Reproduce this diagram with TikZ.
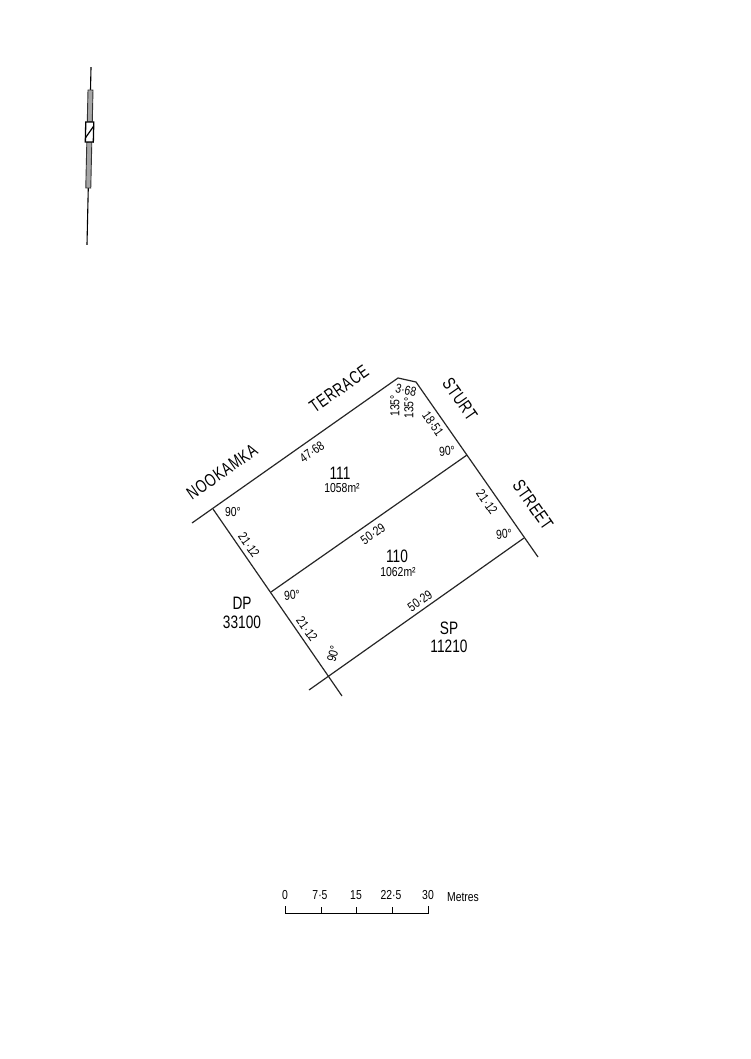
\documentclass[tikz,border=0pt]{standalone}
\usepackage{fontspec}
\setmainfont{Liberation Sans}
\tikzset{
  bigtext/.style={inner sep=0pt,xscale=0.76,font=\fontsize{18}{18}\selectfont},
  roadtext/.style={inner sep=0pt,xscale=0.74,font=\fontsize{18}{18}\selectfont\addfontfeature{LetterSpace=5}},
  smalltext/.style={inner sep=0pt,xscale=0.8,font=\fontsize{13}{13}\selectfont},
  parcel/.style={line width=1.2pt,black!85}
}
\begin{document}
\begin{tikzpicture}[x=1pt,y=-1pt]
\useasboundingbox (0,0) rectangle (750,1059);

% Corner points
\coordinate (terraceend) at (192,523);
\coordinate (dptop) at (213,509);
\coordinate (chamferA) at (398,378);
\coordinate (chamferB) at (416,382);
\coordinate (midright) at (467,455);
\coordinate (lowright) at (524,538);
\coordinate (streetend) at (538,557);
\coordinate (midleft) at (271,592);
\coordinate (corner) at (328,675);
\coordinate (spend) at (309,690);
\coordinate (dpend) at (342,696);

% Allotment boundaries
\draw[parcel] (terraceend) -- (chamferA) -- (chamferB) -- (streetend);
\draw[parcel] (dptop) -- (dpend);
\draw[parcel] (midleft) -- (midright);
\draw[parcel] (spend) -- (lowright);

% Road names
\node[rotate=35,roadtext] (nookamka) at (222,472) {NOOKAMKA};
\node[rotate=35,roadtext] (terrace) at (339,389) {TERRACE};
\node[rotate=-55,roadtext] (sturt) at (460,399) {STURT};
\node[rotate=-55,roadtext] (street) at (533,505) {STREET};

% Allotments
\node[bigtext] (lotA) at (340,473) {111};
\node[smalltext] (areaA) at (342,488) {1058m²};
\node[bigtext] (lotB) at (397,556) {110};
\node[smalltext] (areaB) at (398,572) {1062m²};

% Adjoining plans
\node[bigtext] (dp) at (242,603) {DP};
\node[bigtext] (dpnum) at (242,622) {33100};
\node[bigtext] (sp) at (449,628) {SP};
\node[bigtext] (spnum) at (449,646) {11210};

% Dimensions
\node[rotate=35,smalltext] (dimA) at (312,452) {47·68};
\node[rotate=-12,smalltext] (dimB) at (406,390) {3·68};
\node[rotate=-55,smalltext] (dimC) at (433,424) {18·51};
\node[rotate=-55,smalltext] (dimD) at (487,502) {21·12};
\node[rotate=35,smalltext] (dimE) at (373,534) {50·29};
\node[rotate=35,smalltext] (dimF) at (420,601) {50·29};
\node[rotate=-55,smalltext] (dimG) at (249,545) {21·12};
\node[rotate=-55,smalltext] (dimH) at (307,629) {21·12};

% Angles
\node[smalltext] (angA) at (233,512) {90°};
\node[rotate=90,smalltext] (angB) at (395,406) {135°};
\node[rotate=90,smalltext] (angC) at (409,408) {135°};
\node[rotate=5,smalltext] (angD) at (447,451) {90°};
\node[rotate=5,smalltext] (angE) at (504,534) {90°};
\node[rotate=5,smalltext] (angF) at (292,595) {90°};
\node[rotate=75,smalltext] (angG) at (333,654) {90°};

% North point
\begin{scope}[shift={(89,156)},rotate=-1.3]
\draw[line width=1.1pt] (0,-89) -- (0,89);
\filldraw[draw=black!80,fill=black!35,line width=0.9pt] (-2.5,-66) rectangle (2.5,-34);
\filldraw[draw=black!80,fill=black!35,line width=0.9pt] (-2.5,-14) rectangle (2.5,32);
\filldraw[draw=black,fill=white,line width=1.3pt] (-4,-34) rectangle (4,-14);
\draw[line width=1.2pt] (-4,-18) -- (4,-30);
\end{scope}

% Scale bar
\coordinate (barA) at (285,913);
\coordinate (barB) at (321,913);
\coordinate (barC) at (356,913);
\coordinate (barD) at (392,913);
\coordinate (barE) at (428,913);
\draw[line width=0.9pt] (285,906) -- (barA) -- (barE) -- (428,906);
\draw[line width=0.9pt] (barB) -- +(0,-6);
\draw[line width=0.9pt] (barC) -- +(0,-6);
\draw[line width=0.9pt] (barD) -- +(0,-6);
\node[smalltext] (tickA) at (285,895) {0};
\node[smalltext] (tickB) at (320,895) {7·5};
\node[smalltext] (tickC) at (356,895) {15};
\node[smalltext] (tickD) at (391,895) {22·5};
\node[smalltext] (tickE) at (428,895) {30};
\node[smalltext] (metres) at (463,897) {Metres};
\end{tikzpicture}
\end{document}
